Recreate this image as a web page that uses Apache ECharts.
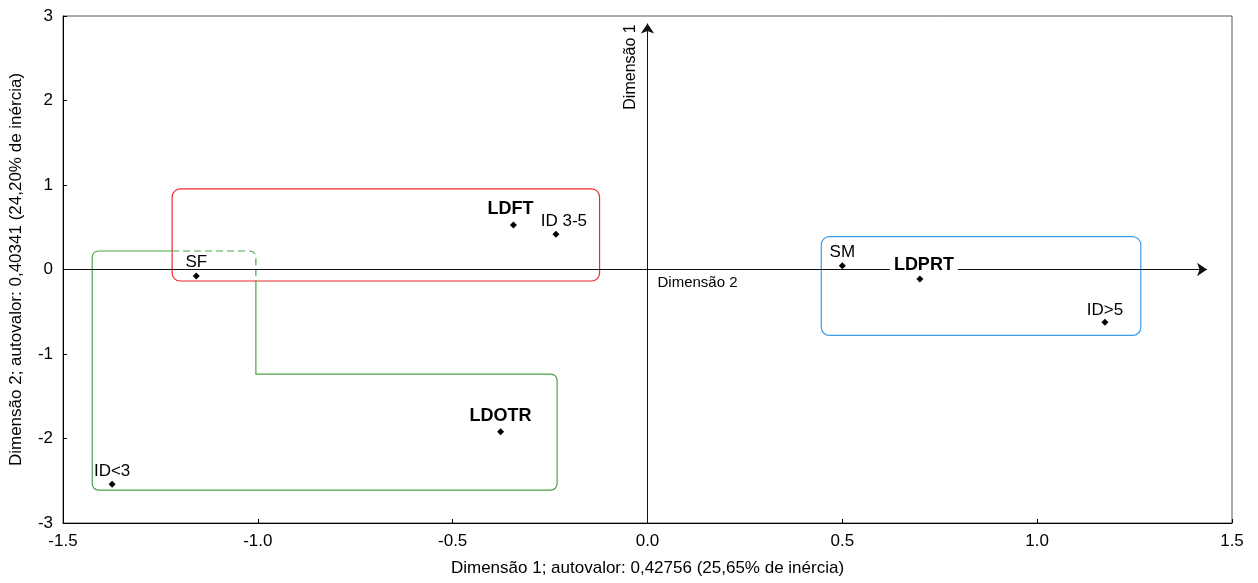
<!DOCTYPE html>
<html>
<head>
<meta charset="utf-8">
<script src="https://cdn.jsdelivr.net/npm/echarts@6/dist/echarts.min.js"></script>
<style>
  html, body { margin: 0; padding: 0; background: #fff; }
  #chart { width: 1258px; height: 583px; }
</style>
</head>
<body>
<div id="chart"></div>
<script>
// Correspondence analysis: category coordinates on dimensions 1 and 2
const categories = ['SF', 'LDFT', 'ID 3-5', 'SM', 'LDPRT', 'ID>5', 'LDOTR', 'ID<3'];
const dim1Values = [-1.158, -0.344, -0.235, 0.500, 0.699, 1.174, -0.377, -1.374];
const dim2Values = [-0.077, 0.527, 0.417, 0.045, -0.112, -0.625, -1.920, -2.540];
const boldCategories = ['LDFT', 'LDPRT', 'LDOTR'];

const xTicks = [-1.5, -1.0, -0.5, 0.0, 0.5, 1.0, 1.5];
const yTicks = [-3, -2, -1, 0, 1, 2, 3];

const xTitle = 'Dimensão 1; autovalor: 0,42756 (25,65% de inércia)';
const yTitle = 'Dimensão 2; autovalor: 0,40341 (24,20% de inércia)';

// Group outlines in axis units: [xMin, xMax, yMin, yMax]
const redGroup = [-1.220, -0.123, -0.136, 0.953];
const blueGroup = [0.446, 1.266, -0.779, 0.388];
// L-shaped group outline, vertices in order
const greenGroupX = [-1.425, -1.005, -1.005, -0.232, -0.232, -1.425];
const greenGroupY = [0.219, 0.219, -1.237, -1.237, -2.610, -2.610];

const FONT = "'Liberation Sans', Arial, sans-serif";

// label placement relative to each point (pixels)
const labelOffsets = {
  'SF': [0, -14], 'LDFT': [-3, -16], 'ID 3-5': [8, -13], 'SM': [0, -13],
  'LDPRT': [4, -14], 'ID>5': [0, -12], 'LDOTR': [0, -16], 'ID<3': [0, -13]
};

const chart = echarts.init(document.getElementById('chart'), null, { renderer: 'canvas' });

function roundedRectItem(box, color, radius) {
  return function (params, api) {
    const p1 = api.coord([box[0], box[3]]);
    const p2 = api.coord([box[1], box[2]]);
    return {
      type: 'rect',
      shape: { x: p1[0], y: p1[1], width: p2[0] - p1[0], height: p2[1] - p1[1], r: radius },
      style: { fill: 'none', stroke: color, lineWidth: 1.2 }
    };
  };
}

// open path through pixel points; interior corners get a rounded turn of radius r[i]
function cornerPath(pts, radii) {
  let d = 'M' + pts[0][0] + ' ' + pts[0][1];
  for (let i = 1; i < pts.length - 1; i++) {
    const p = pts[i], a = pts[i - 1], b = pts[i + 1], r = radii[i];
    if (!r) { d += ' L' + p[0] + ' ' + p[1]; continue; }
    const ux = a[0] - p[0], uy = a[1] - p[1], ul = Math.hypot(ux, uy);
    const vx = b[0] - p[0], vy = b[1] - p[1], vl = Math.hypot(vx, vy);
    const s1 = [p[0] + r * ux / ul, p[1] + r * uy / ul];
    const s2 = [p[0] + r * vx / vl, p[1] + r * vy / vl];
    d += ' L' + s1[0] + ' ' + s1[1] + ' Q' + p[0] + ' ' + p[1] + ' ' + s2[0] + ' ' + s2[1];
  }
  const e = pts[pts.length - 1];
  d += ' L' + e[0] + ' ' + e[1];
  return d;
}

function greenGroupItem(params, api) {
  const P = greenGroupX.map((x, i) => api.coord([x, greenGroupY[i]]));
  // the part of the outline lying inside the red group is dashed
  const splitTop = api.coord([redGroup[0], greenGroupY[0]]);
  const splitSide = api.coord([greenGroupX[1], redGroup[2]]);
  const r = 7;
  const solid = cornerPath(
    [splitSide, P[2], P[3], P[4], P[5], P[0], splitTop],
    [0, 0, r, r, r, r, 0]
  );
  const dashed = cornerPath([splitTop, P[1], splitSide], [0, r, 0]);
  const color = '#4ca34c';
  return {
    type: 'group',
    children: [
      { type: 'path', shape: { pathData: solid }, style: { fill: 'none', stroke: color, lineWidth: 1.2 } },
      { type: 'path', shape: { pathData: dashed }, style: { fill: 'none', stroke: color, lineWidth: 1.2, lineDash: [7, 4] } }
    ]
  };
}

const pointData = categories.map((name, i) => {
  const bold = boldCategories.indexOf(name) >= 0;
  const item = {
    name: name,
    value: [dim1Values[i], dim2Values[i]],
    label: {
      show: true,
      position: 'inside',
      offset: labelOffsets[name],
      formatter: name,
      fontFamily: FONT,
      fontSize: bold ? 18 : 17,
      fontWeight: bold ? 'bold' : 'normal',
      color: '#000',
      opacity: 1,
      textBorderWidth: 0
    }
  };
  if (name === 'LDPRT') {
    item.label.backgroundColor = '#fff';
    item.label.padding = [0, 4];
  }
  return item;
});

const option = {
  animation: false,
  backgroundColor: '#fff',
  textStyle: { fontFamily: FONT },
  grid: {
    left: 63, top: 16, right: 26, bottom: 60,
    show: true, borderColor: '#555', borderWidth: 1, backgroundColor: 'transparent'
  },
  xAxis: {
    type: 'value',
    min: xTicks[0], max: xTicks[xTicks.length - 1], interval: 0.5,
    name: xTitle, nameLocation: 'middle', nameGap: 37,
    nameTextStyle: { fontFamily: FONT, fontSize: 17, color: '#000' },
    axisLine: { show: true, onZero: false, lineStyle: { color: '#000', width: 1 } },
    axisTick: { show: true, inside: true, length: 4, lineStyle: { color: '#000' } },
    axisLabel: {
      margin: 10, fontFamily: FONT, fontSize: 17, color: '#000',
      formatter: v => v.toFixed(1)
    },
    splitLine: { show: false }
  },
  yAxis: {
    type: 'value',
    min: yTicks[0], max: yTicks[yTicks.length - 1], interval: 1,
    name: yTitle, nameLocation: 'middle', nameGap: 38,
    nameTextStyle: { fontFamily: FONT, fontSize: 17, color: '#000' },
    axisLine: { show: true, onZero: false, lineStyle: { color: '#000', width: 1 } },
    axisTick: { show: true, inside: true, length: 4, lineStyle: { color: '#000' } },
    axisLabel: { margin: 10, fontFamily: FONT, fontSize: 17, color: '#000' },
    splitLine: { show: false }
  },
  series: [
    {
      // principal axes through the origin, with arrowheads
      type: 'scatter',
      data: [],
      z: 1,
      silent: true,
      markLine: {
        silent: true,
        animation: false,
        symbol: ['none', 'arrow'],
        symbolSize: 10,
        label: { show: false },
        lineStyle: { color: '#111', width: 1, type: 'solid', opacity: 1 },
        itemStyle: { color: '#111', opacity: 1 },
        emphasis: { disabled: true },
        data: [
          [{ coord: [xTicks[0], 0] }, { coord: [1.436, 0] }],
          [{ coord: [0, yTicks[0]] }, { coord: [0, 2.91] }]
        ]
      }
    },
    {
      type: 'custom',
      z: 2,
      silent: true,
      renderItem: roundedRectItem(redGroup, '#ee2a2a', 8),
      data: [[redGroup[0], redGroup[2]]]
    },
    {
      type: 'custom',
      z: 2,
      silent: true,
      renderItem: roundedRectItem(blueGroup, '#3b9ded', 8),
      data: [[blueGroup[0], blueGroup[2]]]
    },
    {
      type: 'custom',
      z: 2,
      silent: true,
      renderItem: greenGroupItem,
      data: [[greenGroupX[0], greenGroupY[0]]]
    },
    {
      type: 'scatter',
      z: 5,
      symbol: 'diamond',
      symbolSize: 7,
      itemStyle: { color: '#000', opacity: 1 },
      emphasis: { disabled: true },
      data: pointData
    }
  ]
};

chart.setOption(option);

// axis names drawn beside the principal axes
const origin = chart.convertToPixel({ gridIndex: 0 }, [0, 0]);
const topPt = chart.convertToPixel({ gridIndex: 0 }, [0, yTicks[yTicks.length - 1]]);
chart.setOption({
  graphic: [
    {
      type: 'text', x: origin[0] - 17, y: topPt[1] + 51, rotation: Math.PI / 2, z: 10,
      style: { text: 'Dimensão 1', fontFamily: FONT, fontSize: 16, fill: '#000', align: 'center', verticalAlign: 'middle' }
    },
    {
      type: 'text', x: origin[0] + 10, y: origin[1] + 13, z: 10,
      style: { text: 'Dimensão 2', fontFamily: FONT, fontSize: 15, fill: '#000', align: 'left', verticalAlign: 'middle' }
    }
  ]
});
</script>
</body>
</html>
